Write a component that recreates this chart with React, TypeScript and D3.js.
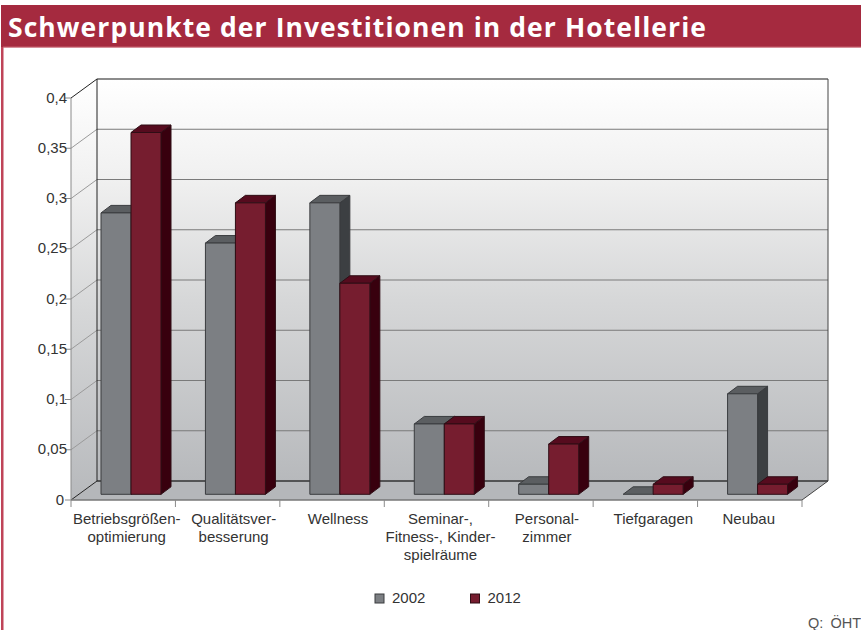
import React from "react";
import * as d3 from "d3";

const categories: string[][] = [
  ["Betriebsgrößen-", "optimierung"],
  ["Qualitätsver-", "besserung"],
  ["Wellness"],
  ["Seminar-,", "Fitness-, Kinder-", "spielräume"],
  ["Personal-", "zimmer"],
  ["Tiefgaragen"],
  ["Neubau"],
];
const values2002 = [0.28, 0.25, 0.29, 0.07, 0.01, 0, 0.1];
const values2012 = [0.36, 0.29, 0.21, 0.07, 0.05, 0.01, 0.01];
const yTicks = [0, 0.05, 0.1, 0.15, 0.2, 0.25, 0.3, 0.35, 0.4];
const seriesNames = ["2002", "2012"];

const W = 861, H = 630;
const FL = 71, FR = 802, FT = 98, FB = 500; // front plane
const DX = 26, DY = 19; // wall depth
const BAR_DX = 7.8, BAR_DY = 5.7; // bar offset from front plane
const SX = 10, SY = 7.5; // bar depth
const LABEL_NUDGE = [3.5, 6, 6, 4, 6, 8, -1];

const x = d3.scaleBand<number>().domain(d3.range(categories.length)).range([FL, FR]);
const y = d3.scaleLinear().domain([0, 0.4]).range([FB, FT]);
const fmt = (v: number) => String(v).replace(".", ",");

const palette = [
  { front: "#7c7f83", top: "#5b5e61", side: "#3c3f42", stroke: "#3a3c3f" },
  { front: "#761d2f", top: "#560b1e", side: "#38000e", stroke: "#2f0d15" },
];
const poly = (pts: number[][]) => pts.map((p) => p.join(",")).join(" ");

function Bar({ x0, w, v, s }: { x0: number; w: number; v: number; s: number }) {
  const c = palette[s];
  const b = y(0) - BAR_DY;
  const t = y(v) - BAR_DY;
  const x1 = x0 + w;
  return (
    <g stroke={c.stroke} strokeWidth={1} strokeLinejoin="round">
      <polygon fill={c.side} points={poly([[x1, b], [x1 + SX, b - SY], [x1 + SX, t - SY], [x1, t]])} />
      <polygon fill={c.top} points={poly([[x0, t], [x0 + SX, t - SY], [x1 + SX, t - SY], [x1, t]])} />
      <rect x={x0} y={t} width={w} height={b - t} fill={c.front} />
    </g>
  );
}

export default function App() {
  const bw = x.bandwidth();
  const barW = 30;
  const font = "'Liberation Sans', Arial, sans-serif";
  return (
    <svg width={W} height={H} style={{ position: "absolute", left: 0, top: 0, display: "block" }} fontFamily={font}>
      <defs>
        <linearGradient id="wall" x1="0" y1="0" x2="0" y2="1">
          <stop offset="0" stopColor="#ffffff" />
          <stop offset="0.25" stopColor="#f0f0f0" />
          <stop offset="0.55" stopColor="#d6d7d8" />
          <stop offset="1" stopColor="#b7b9bc" />
        </linearGradient>
      </defs>
      <rect width={W} height={H} fill="#fff" />
      <rect x={1} y={47} width={2.5} height={H - 47} fill="#bf4458" />
      <rect x={1} y={5} width={W - 1} height={42} fill="#a52a3f" />
      <rect x={3} y={46.5} width={W - 3} height={1.2} fill="#c5606f" />
      <text x={8} y={37} fill="#fff" fontFamily="'Open Sans', Verdana, sans-serif" fontWeight="bold" fontSize={26.5} textLength={698} lengthAdjust="spacing">
        Schwerpunkte der Investitionen in der Hotellerie
      </text>

      {/* walls */}
      <polygon fill="url(#wall)" points={poly([[FL + DX, FT - DY], [FR + DX, FT - DY], [FR + DX, FB - DY], [FL + DX, FB - DY]])} />
      <polygon fill="url(#wall)" points={poly([[FL, FT], [FL + DX, FT - DY], [FL + DX, FB - DY], [FL, FB]])} />
      <polygon fill="#b5b7ba" points={poly([[FL, FB], [FL + DX, FB - DY], [FR + DX, FB - DY], [FR, FB]])} />

      {/* grid */}
      {yTicks.slice(1, -1).map((t) => (
        <g key={t} stroke="#7a7a7a" strokeWidth={1}>
          <line x1={FL} y1={y(t)} x2={FL + DX} y2={y(t) - DY} stroke="#9a9a9a" />
          <line x1={FL + DX} y1={y(t) - DY} x2={FR + DX} y2={y(t) - DY} />
        </g>
      ))}
      <line x1={FL + DX} y1={FT - DY} x2={FR + DX} y2={FT - DY} stroke="#666" strokeWidth={1.5} />
      <line x1={FL + DX} y1={FB - DY} x2={FR + DX} y2={FB - DY} stroke="#333" strokeWidth={1.5} />
      <line x1={FL + DX} y1={FT - DY} x2={FL + DX} y2={FB - DY} stroke="#222" />
      <line x1={FR + DX} y1={FT - DY} x2={FR + DX} y2={FB - DY} stroke="#444" />
      <line x1={FL} y1={FT} x2={FL + DX} y2={FT - DY} stroke="#222" />
      <line x1={FL} y1={FB} x2={FL + DX} y2={FB - DY} stroke="#222" />
      <line x1={FR} y1={FB} x2={FR + DX} y2={FB - DY} stroke="#444" />

      {/* bars */}
      {categories.map((_, i) => {
        const x0 = x(i)! + BAR_DX + 22.2;
        return (
          <g key={i}>
            <Bar x0={x0} w={barW} v={values2002[i]} s={0} />
            <Bar x0={x0 + barW} w={barW} v={values2012[i]} s={1} />
          </g>
        );
      })}

      {/* axes */}
      <line x1={FL} y1={FT} x2={FL} y2={FB} stroke="#8a8a8a" strokeWidth={1} />
      <line x1={FL} y1={FB} x2={FR} y2={FB} stroke="#777" strokeWidth={1.5} />
      {yTicks.map((t) => (
        <g key={t}>
          <line x1={65} y1={y(t)} x2={FL} y2={y(t)} stroke="#8a8a8a" />
          <text x={t === 0 ? 64 : 67} y={y(t) + 4.5} textAnchor="end" fontSize={15} fill="#333">{fmt(t)}</text>
        </g>
      ))}
      {d3.range(categories.length + 1).map((i) => {
        const px = FL + i * bw;
        return <line key={i} x1={px} y1={FB} x2={px} y2={507} stroke="#8a8a8a" />;
      })}
      {categories.map((lines, i) => (
        <text key={i} textAnchor="middle" fontSize={15} fill="#333">
          {lines.map((l, j) => (
            <tspan key={j} x={x(i)! + bw / 2 + LABEL_NUDGE[i]} y={524 + j * 18}>{l}</tspan>
          ))}
        </text>
      ))}

      {/* legend */}
      {seriesNames.map((n, i) => {
        const lx = 375 + i * 95.5;
        return (
          <g key={n}>
            <rect x={lx} y={594} width={9} height={9} fill={palette[i].front} stroke={palette[i].stroke} />
            <text x={lx + 17} y={603} fontSize={15} fill="#333">{n}</text>
          </g>
        );
      })}
      <text x={861} y={628} textAnchor="end" fontSize={14.5} fill="#555" style={{ wordSpacing: 3 }}>Q: ÖHT</text>
    </svg>
  );
}
